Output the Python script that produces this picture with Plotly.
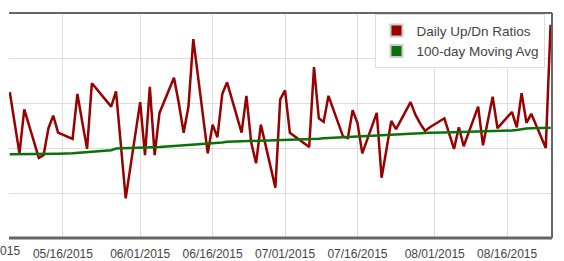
import plotly.graph_objects as go

dates = [
    "2015-05-05", "2015-05-06", "2015-05-07", "2015-05-08",
    "2015-05-11", "2015-05-12", "2015-05-13", "2015-05-14", "2015-05-15",
    "2015-05-18", "2015-05-19", "2015-05-20", "2015-05-21", "2015-05-22",
    "2015-05-26", "2015-05-27", "2015-05-28", "2015-05-29",
    "2015-06-01", "2015-06-02", "2015-06-03", "2015-06-04", "2015-06-05",
    "2015-06-08", "2015-06-09", "2015-06-10", "2015-06-11", "2015-06-12",
    "2015-06-15", "2015-06-16", "2015-06-17", "2015-06-18", "2015-06-19",
    "2015-06-22", "2015-06-23", "2015-06-24", "2015-06-25", "2015-06-26",
    "2015-06-29", "2015-06-30", "2015-07-01", "2015-07-02",
    "2015-07-06", "2015-07-07", "2015-07-08", "2015-07-09", "2015-07-10",
    "2015-07-13", "2015-07-14", "2015-07-15", "2015-07-16", "2015-07-17",
    "2015-07-20", "2015-07-21", "2015-07-22", "2015-07-23", "2015-07-24",
    "2015-07-27", "2015-07-28", "2015-07-29", "2015-07-30", "2015-07-31",
    "2015-08-03", "2015-08-04", "2015-08-05", "2015-08-06", "2015-08-07",
    "2015-08-10", "2015-08-11", "2015-08-12", "2015-08-13", "2015-08-14",
    "2015-08-17", "2015-08-18", "2015-08-19", "2015-08-20", "2015-08-21",
    "2015-08-24", "2015-08-25",
]

daily_ratio = [
    1.62, 1.29, 0.94, 1.43,
    0.89, 0.92, 1.22, 1.36, 1.17,
    1.10, 1.60, 1.29, 0.99, 1.72,
    1.46, 1.63, 1.04, 0.44,
    1.51, 0.92, 1.68, 0.92, 1.39,
    1.78, 1.50, 1.17, 1.46, 2.21,
    0.94, 1.26, 1.12, 1.60, 1.73,
    1.17, 1.58, 1.06, 0.83, 1.26,
    0.56, 1.54, 1.64, 1.17,
    1.01, 1.90, 1.33, 1.29, 1.58,
    1.13, 1.11, 1.42, 1.28, 0.94,
    1.39, 0.67, 0.98, 1.30, 1.21,
    1.51, 1.37, 1.27, 1.19, 1.23,
    1.33, 1.16, 0.99, 1.23, 1.02,
    1.46, 1.03, 1.30, 1.57, 1.22,
    1.40, 1.23, 1.61, 1.28, 1.38,
    1.00, 2.37,
]

moving_avg = [
    0.930, 0.930, 0.930, 0.930,
    0.931, 0.932, 0.933, 0.934, 0.937,
    0.942, 0.947, 0.952, 0.958, 0.963,
    0.976, 0.994, 0.996, 0.996,
    0.997, 1.000, 1.003, 1.008, 1.011,
    1.022, 1.026, 1.029, 1.032, 1.036,
    1.044, 1.047, 1.051, 1.061, 1.069,
    1.074, 1.076, 1.078, 1.079, 1.080,
    1.082, 1.083, 1.086, 1.087,
    1.097, 1.100, 1.103, 1.107, 1.110,
    1.122, 1.126, 1.129, 1.131, 1.133,
    1.143, 1.146, 1.148, 1.150, 1.152,
    1.160, 1.162, 1.164, 1.167, 1.169,
    1.172, 1.173, 1.174, 1.176, 1.177,
    1.180, 1.181, 1.182, 1.183, 1.184,
    1.194, 1.200, 1.211, 1.217, 1.219,
    1.222, 1.226,
]

tick_dates = ["2015-05-16", "2015-06-01", "2015-06-16", "2015-07-01",
              "2015-07-16", "2015-08-01", "2015-08-16"]
tick_labels = ["05/16/2015", "06/01/2015", "06/16/2015", "07/01/2015",
               "07/16/2015", "08/01/2015", "08/16/2015"]
cut_label = "05/01/2015"

series_names = ["Daily Up/Dn Ratios", "100-day Moving Avg"]
RED = "#990000"
GREEN = "#0b720b"

fig = go.Figure()
fig.add_trace(go.Scatter(x=dates, y=daily_ratio, mode="lines",
                         line=dict(color=RED, width=2.5), showlegend=False))
fig.add_trace(go.Scatter(x=dates, y=moving_avg, mode="lines",
                         line=dict(color=GREEN, width=2.5), showlegend=False))
for name, col in zip(series_names, [RED, GREEN]):
    fig.add_trace(go.Scatter(x=[None], y=[None], mode="markers", name=name,
                             marker=dict(symbol="square", size=14, color=col,
                                         line=dict(color="#cccccc", width=1))))

L, R, T, B = 9, 12, 13, 23
W, H = 564, 261
pw = W - L - R

fig.update_layout(
    width=W, height=H,
    margin=dict(l=L, r=R, t=T, b=B, pad=0, autoexpand=False),
    paper_bgcolor="white", plot_bgcolor="white",
    font=dict(family="Liberation Sans, Arial, sans-serif", size=12, color="#444444"),
    xaxis=dict(type="date", range=["2015-05-04 20:00", "2015-08-25 07:00"],
               tickvals=tick_dates, ticktext=tick_labels,
               showgrid=True, gridcolor="#dddddd", gridwidth=1,
               zeroline=False, showline=False, ticks="",
               ticklabelstandoff=7, automargin=False,
               tickfont=dict(size=12, color="#444444")),
    yaxis=dict(range=[0, 2.5], dtick=0.5, showticklabels=False,
               showgrid=True, gridcolor="#dddddd", gridwidth=1,
               zeroline=False, showline=False, ticks="", automargin=False),
    legend=dict(x=0.988, y=0.995, xanchor="right", yanchor="top",
                bgcolor="white", bordercolor="#dddddd", borderwidth=1,
                font=dict(size=13.5, color="#444444"),
                tracegroupgap=0, itemsizing="constant", itemwidth=30),
    shapes=[
        dict(type="line", xref="paper", yref="paper", x0=0, x1=1, y0=1, y1=1,
             line=dict(color="#666666", width=2)),
        dict(type="line", xref="paper", yref="paper", x0=0, x1=1, y0=0, y1=0,
             line=dict(color="#666666", width=3)),
        dict(type="line", xref="paper", yref="paper", x0=1, x1=1, y0=0, y1=1,
             line=dict(color="#666666", width=2)),
    ],
    annotations=[
        dict(text=cut_label, xref="paper", yref="paper",
             x=(-9.6 - L) / pw, y=0, yshift=-13, xanchor="center", yanchor="middle",
             showarrow=False, font=dict(size=12, color="#444444")),
    ],
)

fig.write_html("out.html")
